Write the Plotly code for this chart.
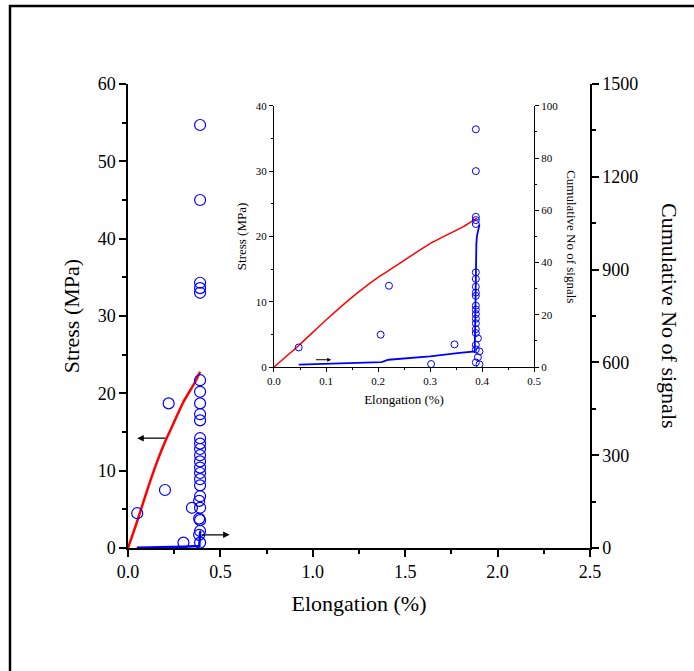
import plotly.graph_objects as go

# ---- data ----
stress_x = [0.0, 0.0475, 0.10, 0.158, 0.207, 0.223, 0.261, 0.30, 0.364, 0.39]
stress_y = [0.0, 3.3, 7.2, 11.2, 14.1, 14.9, 16.9, 18.9, 21.5, 22.8]

signals_x = [0.0475, 0.207, 0.22, 0.30, 0.357, 0.386, 0.387, 0.388, 0.389, 0.390, 0.393, 0.395]
signals_y = [0.9, 1.9, 2.8, 4.1, 5.4, 6.0, 20.0, 42.0, 47.0, 50.0, 53.8, 54.5]

main_pts_x = [0.05, 0.20, 0.22, 0.30, 0.346,
              0.39, 0.39, 0.39, 0.39, 0.39, 0.39, 0.39, 0.39, 0.39, 0.39,
              0.39, 0.39, 0.39, 0.39, 0.39, 0.39, 0.39, 0.39, 0.39, 0.39,
              0.385, 0.39, 0.385, 0.39, 0.39, 0.385, 0.39]
main_pts_y = [4.5, 7.5, 18.7, 0.7, 5.2,
              54.7, 45.0, 34.3, 33.6, 33.0, 21.7, 20.2, 18.7, 17.3, 16.5,
              14.2, 13.5, 12.8, 12.0, 11.2, 10.4, 9.7, 8.9, 8.1, 6.7,
              6.1, 5.2, 3.8, 3.6, 2.2, 1.7, 0.7]

inset_pts_x = [0.0475, 0.205, 0.221, 0.302, 0.347,
               0.388, 0.388, 0.388, 0.388, 0.388, 0.388, 0.388, 0.388, 0.388,
               0.388, 0.388, 0.388, 0.388, 0.388, 0.388, 0.388, 0.388, 0.388,
               0.388, 0.388, 0.392, 0.392, 0.395, 0.395]
inset_pts_y = [3.0, 4.95, 12.45, 0.46, 3.47,
               36.4, 30.0, 23.0, 22.5, 21.9, 14.5, 13.5, 12.3, 11.4,
               10.9, 9.4, 8.8, 8.1, 7.4, 6.7, 5.8, 5.2, 3.4, 2.7,
               0.7, 4.4, 1.5, 2.4, 0.4]

main_xticks = [0.0, 0.5, 1.0, 1.5, 2.0, 2.5]
main_yticks = [0, 10, 20, 30, 40, 50, 60]
main_y2ticks = [0, 300, 600, 900, 1200, 1500]
inset_xticks = [0.0, 0.1, 0.2, 0.3, 0.4, 0.5]
inset_yticks = [0, 10, 20, 30, 40]
inset_y2ticks = [0, 20, 40, 60, 80, 100]

FONT = "Liberation Serif"
BLUE = "#0000ff"
RED = "#ff0000"

fig = go.Figure()

# main
fig.add_trace(go.Scatter(x=stress_x, y=stress_y, mode="lines",
                         line=dict(color=RED, width=2.5, shape="spline", smoothing=0.5),
                         xaxis="x", yaxis="y", showlegend=False))
fig.add_trace(go.Scatter(x=main_pts_x, y=main_pts_y, mode="markers",
                         marker=dict(symbol="circle-open", size=11, color=BLUE, line=dict(width=1.2)),
                         xaxis="x", yaxis="y", showlegend=False))
fig.add_trace(go.Scatter(x=signals_x, y=signals_y, mode="lines", line=dict(color=BLUE, width=2.5),
                         xaxis="x", yaxis="y2", showlegend=False))
# inset
fig.add_trace(go.Scatter(x=stress_x, y=stress_y, mode="lines",
                         line=dict(color=RED, width=1.5, shape="spline", smoothing=0.5),
                         xaxis="x3", yaxis="y3", showlegend=False))
fig.add_trace(go.Scatter(x=inset_pts_x, y=inset_pts_y, mode="markers",
                         marker=dict(symbol="circle-open", size=7, color=BLUE, line=dict(width=1)),
                         xaxis="x3", yaxis="y3", showlegend=False))
fig.add_trace(go.Scatter(x=signals_x, y=signals_y, mode="lines", line=dict(color=BLUE, width=1.8),
                         xaxis="x3", yaxis="y4", showlegend=False))

common = dict(showline=True, linecolor="black", showgrid=False, zeroline=False,
              ticks="outside", tickcolor="black")

ix0, ix1 = 0.316, 0.879
iy0, iy1 = 0.390, 0.953

fig.update_layout(
    width=694, height=671,
    margin=dict(l=128, r=104, t=84, b=123),
    paper_bgcolor="white", plot_bgcolor="white",
    font=dict(family=FONT, color="black"),
    xaxis=dict(**common, domain=[0, 1], range=[0, 2.5], tickvals=main_xticks, tickformat=".1f",
               linewidth=1.5, ticklen=7, tickwidth=1.5, tickfont=dict(size=18),
               minor=dict(dtick=0.25, ticks="outside", ticklen=4, tickcolor="black"),
               title=dict(text="Elongation (%)", font=dict(size=22), standoff=14), anchor="y"),
    xaxis2=dict(overlaying="x", side="top", range=[0, 2.5], showline=True, linecolor="black", linewidth=1.5,
                showgrid=False, zeroline=False, ticks="inside", tickvals=main_xticks, ticklen=3,
                tickcolor="black", showticklabels=False, anchor="y",
                minor=dict(dtick=0.25, ticks="inside", ticklen=3, tickcolor="black")),
    yaxis=dict(**common, domain=[0, 1], range=[0, 60], tickvals=main_yticks,
               linewidth=1.5, ticklen=7, tickwidth=1.5, tickfont=dict(size=18),
               minor=dict(dtick=5, ticks="outside", ticklen=4, tickcolor="black"),
               title=dict(text="Stress (MPa)", font=dict(size=22), standoff=12), anchor="x"),
    yaxis2=dict(**common, overlaying="y", side="right", range=[0, 1500], tickvals=main_y2ticks,
                linewidth=1.5, ticklen=7, tickwidth=1.5, tickfont=dict(size=18), anchor="x",
                minor=dict(dtick=150, ticks="outside", ticklen=4, tickcolor="black")),
    xaxis3=dict(**common, domain=[ix0, ix1], range=[0, 0.5], tickvals=inset_xticks, tickformat=".1f",
                linewidth=1, ticklen=4, tickfont=dict(size=11), anchor="y3",
                minor=dict(dtick=0.05, ticks="outside", ticklen=2, tickcolor="black"),
                title=dict(text="Elongation (%)", font=dict(size=13), standoff=8)),
    xaxis4=dict(overlaying="x3", side="top", range=[0, 0.5], showline=True, linecolor="black", linewidth=1,
                showgrid=False, zeroline=False, ticks="inside", tickvals=inset_xticks, ticklen=2,
                tickcolor="black", showticklabels=False, anchor="y3",
                minor=dict(dtick=0.05, ticks="inside", ticklen=2, tickcolor="black")),
    yaxis3=dict(**common, domain=[iy0, iy1], range=[0, 40], tickvals=inset_yticks,
                linewidth=1, ticklen=4, tickfont=dict(size=11), anchor="x3",
                minor=dict(dtick=5, ticks="outside", ticklen=2, tickcolor="black"),
                title=dict(text="Stress (MPa)", font=dict(size=13), standoff=6)),
    yaxis4=dict(**common, overlaying="y3", side="right", range=[0, 100], tickvals=inset_y2ticks,
                linewidth=1, ticklen=4, tickfont=dict(size=11), anchor="x3",
                minor=dict(dtick=10, ticks="outside", ticklen=2, tickcolor="black")),
)

annotations = [
    # right axis titles (rotated clockwise)
    dict(text="Cumulative No of signals", xref="paper", yref="paper", x=1.173, y=0.5,
         xanchor="center", yanchor="middle",
         textangle=90, showarrow=False, font=dict(size=22, family=FONT)),
    dict(text="Cumulative No of signals", xref="paper", yref="paper", x=0.961, y=0.67,
         xanchor="center", yanchor="middle",
         textangle=90, showarrow=False, font=dict(size=13, family=FONT)),
    # arrows main
    dict(x=0.05, y=14.2, ax=0.21, ay=14.2, xref="x", yref="y", axref="x", ayref="y",
         showarrow=True, arrowhead=2, arrowsize=1, arrowwidth=1.3, arrowcolor="black", text=""),
    dict(x=0.55, y=1.7, ax=0.39, ay=1.7, xref="x", yref="y", axref="x", ayref="y",
         showarrow=True, arrowhead=2, arrowsize=1, arrowwidth=1.3, arrowcolor="black", text=""),
    # arrow inset
    dict(x=0.11, y=1.12, ax=0.078, ay=1.12, xref="x3", yref="y3", axref="x3", ayref="y3",
         showarrow=True, arrowhead=2, arrowsize=0.8, arrowwidth=1, arrowcolor="black", text=""),
]
fig.update_layout(annotations=annotations)

fig.add_shape(type="rect", xref="paper", yref="paper",
              x0=(10 - 128) / 462, x1=(705 - 128) / 462,
              y0=(548 - 690) / 464, y1=(548 - 6) / 464,
              line=dict(color="black", width=2.5), fillcolor="rgba(0,0,0,0)", layer="above")

fig.write_html("out.html", config={"displayModeBar": False},
               post_script="document.body.style.margin='0px';")
